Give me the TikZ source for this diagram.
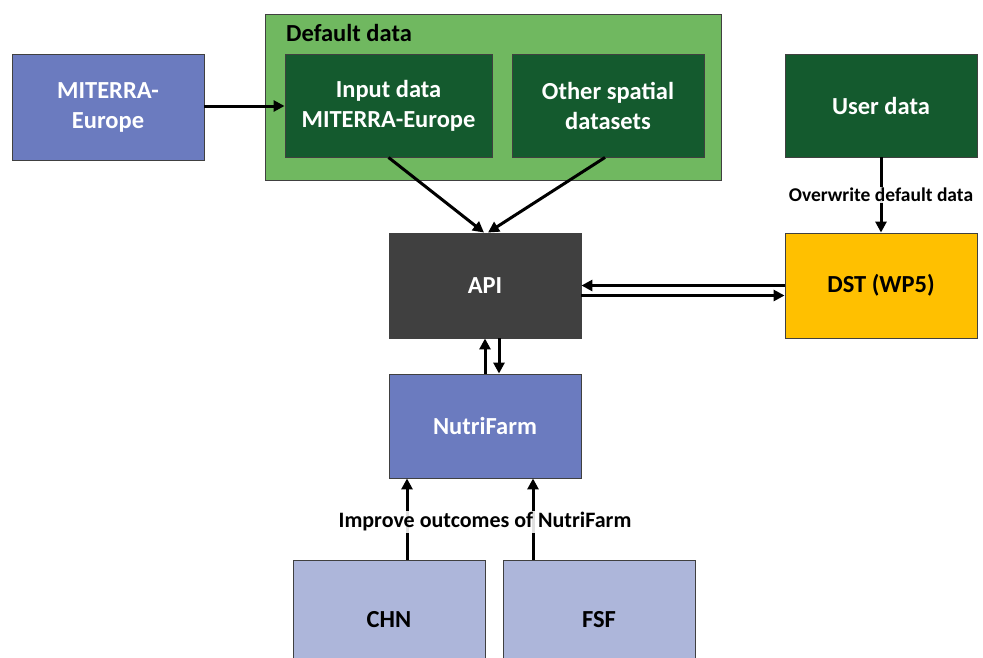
\documentclass[tikz,border=0pt]{standalone}
\usepackage{fontspec}
\setmainfont{Carlito}
\usetikzlibrary{arrows.meta,positioning,calc}
\definecolor{miblue}{RGB}{107,123,191}
\definecolor{ltblue}{RGB}{173,182,218}
\definecolor{dkgreen}{RGB}{20,90,46}
\definecolor{ltgreen}{RGB}{112,184,96}
\definecolor{apigray}{RGB}{64,64,64}
\definecolor{dstgold}{RGB}{255,192,0}
\tikzset{
  blk/.style={draw=black!75, line width=0.9pt, align=center, inner sep=3pt,
              font=\bfseries\fontsize{24.5}{30}\selectfont, text=white,
              minimum width=192pt, minimum height=104pt},
  fillmi/.style={fill=miblue},
  fillgr/.style={fill=dkgreen},
  filllt/.style={fill=ltblue, text=black},
  sig/.style={-{Triangle[length=11pt,width=11pt]}, line width=3pt},
  lbl/.style={font=\bfseries\fontsize{19.5}{23}\selectfont, inner sep=1.5pt,
              fill=white, fill opacity=0.88, text opacity=1},
}

\begin{document}
\begin{tikzpicture}[x=1pt,y=-1pt]
    \useasboundingbox (0,0) rectangle (983,657);
    % default data container
    \node[draw=black!75, line width=0.9pt, fill=ltgreen,
          minimum width=456pt, minimum height=166pt] (dflt) at (493,97) {};
    \node[font=\bfseries\fontsize{24.5}{28}\selectfont, anchor=west, inner sep=0pt]
      (dlbl) at (286,33) {Default data};
    \node[blk,fillgr,minimum width=207pt,minimum height=103pt] (inp) at (388.5,105.5)
      {Input data\\MITERRA-Europe};
    \node[blk,fillgr,minimum height=103pt] (oth) at (608,105.5) {Other spatial\\datasets};
    \node[blk,fillmi,minimum height=106pt] (mit) at (108,107) {MITERRA-\\Europe};
    \node[blk,fillgr,minimum height=103pt] (usr) at (881,105.5) {User data};
    \node[blk,fill=apigray,minimum height=105pt] (api) at (485,285.5) {API};
    \node[blk,fill=dstgold,text=black,minimum height=105pt] (dst) at (881,285.5) {DST (WP5)};
    \node[blk,fillmi] (nut) at (485,426) {NutriFarm};
    \node[blk,filllt,minimum height=120pt] (chn) at (389,620) {CHN};
    \node[blk,filllt,minimum height=120pt] (fsf) at (599,620) {FSF};
    % connectors
    \draw[sig] (mit.east |- 0,106) -- (inp.west |- 0,106);
    \draw[sig] (inp.south) -- ([xshift=-1pt]api.north);
    \draw[sig] ([xshift=-3pt]oth.south) -- ([xshift=3pt]api.north);
    \draw[sig] (usr.south) -- node[lbl]{Overwrite default data} (dst.north);
    \draw[sig] (dst.west) -- (api.east);
    \draw[sig] ([yshift=-10pt]api.east) -- ([yshift=-10pt]dst.west);
    \draw[sig] (nut.north) -- (api.south);
    \draw[sig] ([xshift=14pt]api.south) -- ([xshift=14pt]nut.north);
    \draw[sig] ([xshift=18pt]chn.north) -- ([xshift=-78pt]nut.south);
    \draw[sig] ([xshift=-66pt]fsf.north) -- ([xshift=48pt]nut.south);
    \node[lbl,font=\bfseries\fontsize{22}{26}\selectfont] (imp) at (485,522)
      {Improve outcomes of NutriFarm};
  \end{tikzpicture}
\end{document}
